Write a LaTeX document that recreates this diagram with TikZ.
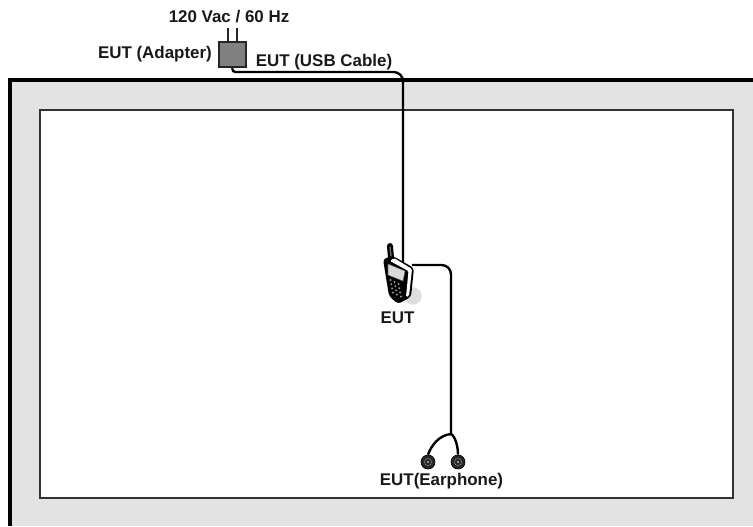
\documentclass[tikz,border=0pt]{standalone}
\usepackage{fontspec}
\setmainfont{Liberation Sans}
\usepackage{tikz}
\usetikzlibrary{positioning,calc}

\begin{document}
\begin{tikzpicture}[
  x=0.75pt, y=-0.75pt,
  lbl/.style={inner sep=0pt, font=\fontsize{12.7}{14}\selectfont\bfseries, text=black!90},
  wire/.style={draw=black, line width=1.8pt},
  bud/.style={circle, draw=black, fill=black!85, line width=0.5pt, minimum size=10.5pt, inner sep=0pt},
  prong/.style={draw=black!85, line width=1.2pt}
]
  \useasboundingbox (0,0) rectangle (753,526);
  % room
  \fill[black!11] (10,80) rectangle (753,526);
  \draw[line width=3pt] (10,526) -- (10,80) -- (753,80);
  \draw[black!80, fill=white, line width=0.9pt] (40,110) rectangle (733,498);

  % adapter
  \node[draw=black!85, fill=black!50, line width=1.6pt, minimum width=20pt, minimum height=19pt, inner sep=0pt] (adapter) at (232.5,54.5) {};
  \coordinate (pl) at ([xshift=-3.4pt]adapter.north);
  \coordinate (pr) at ([xshift=3.4pt]adapter.north);
  \coordinate (plt) at ($(pl)+(0,-13)$);
  \coordinate (prt) at ($(pr)+(0,-13)$);
  \draw[prong] (pl) -- (plt);
  \draw[prong] (pr) -- (prt);
  \node[lbl] (mains) at (229,16.5) {120 Vac / 60 Hz};
  \node[lbl, left=4.5pt of adapter] (adlbl) {EUT (Adapter)};
  \node[lbl] (usblbl) at (324,62) {EUT (USB Cable)};

  % phone
  \coordinate (phone) at (403,262);
  \coordinate (phoneout) at (412,265);
  \coordinate (cornerA) at (403,72);
  \coordinate (bendA) at (232,72);
  \coordinate (cornerB) at (451,265);
  \coordinate (split) at (451,434);
  \draw[wire, rounded corners=2.5pt] (adapter.south) -- (bendA) -- ($(bendA)+(8,0)$);
  \draw[wire, rounded corners=7pt] ($(bendA)+(7,0)$) -- (cornerA) -- (phone);
  \fill[black!13] (413,296) circle (6.5pt);
  \draw[black, line width=4.5pt, line cap=round] (390,246) -- (391,258);
  \draw[black!55, line width=1pt, line cap=round] (390,247) -- (391,256);
  \fill[black, rounded corners=2.5pt] (383,259) -- (393,256) -- (414,268) -- (411,297) -- (398,304) -- (389,296) -- cycle;
  \fill[white, rounded corners=1pt] (394,258) -- (412,269) -- (409,296) -- (406,297) -- (408.5,271) -- (390,261) -- cycle;
  \draw[black!60, fill=black!15, line width=0.4pt] (388,264) -- (405,271) -- (403,281) -- (388,275) -- cycle;
  \foreach \r in {0,1,2,3}
    \foreach \c in {0,1,2}
      \fill[black!40] (390.5+4*\c+0.8*\r,280+2*\c+4.2*\r) circle (0.8pt);
  \node[lbl] (phlbl) at (397.5,318) {EUT};

  % earphone
  \draw[wire, rounded corners=7pt] (phoneout) -- (cornerB) -- (split);
  \node[bud] (budl) at (428,462) {};
  \node[bud] (budr) at (458,462) {};
  \foreach \b in {budl,budr} {
    \draw[white!60!black, line width=0.3pt] (\b) circle (2.7pt);
    \fill[white] (\b) circle (0.6pt);
  }
  \draw[wire] (split) .. controls (439,435) and (431,446) .. (budl.north);
  \draw[wire] (split) .. controls (455,436) and (458,446) .. (budr.north);
  \node[lbl] (earlbl) at (441.5,481) {EUT(Earphone)};
\end{tikzpicture}
\end{document}
